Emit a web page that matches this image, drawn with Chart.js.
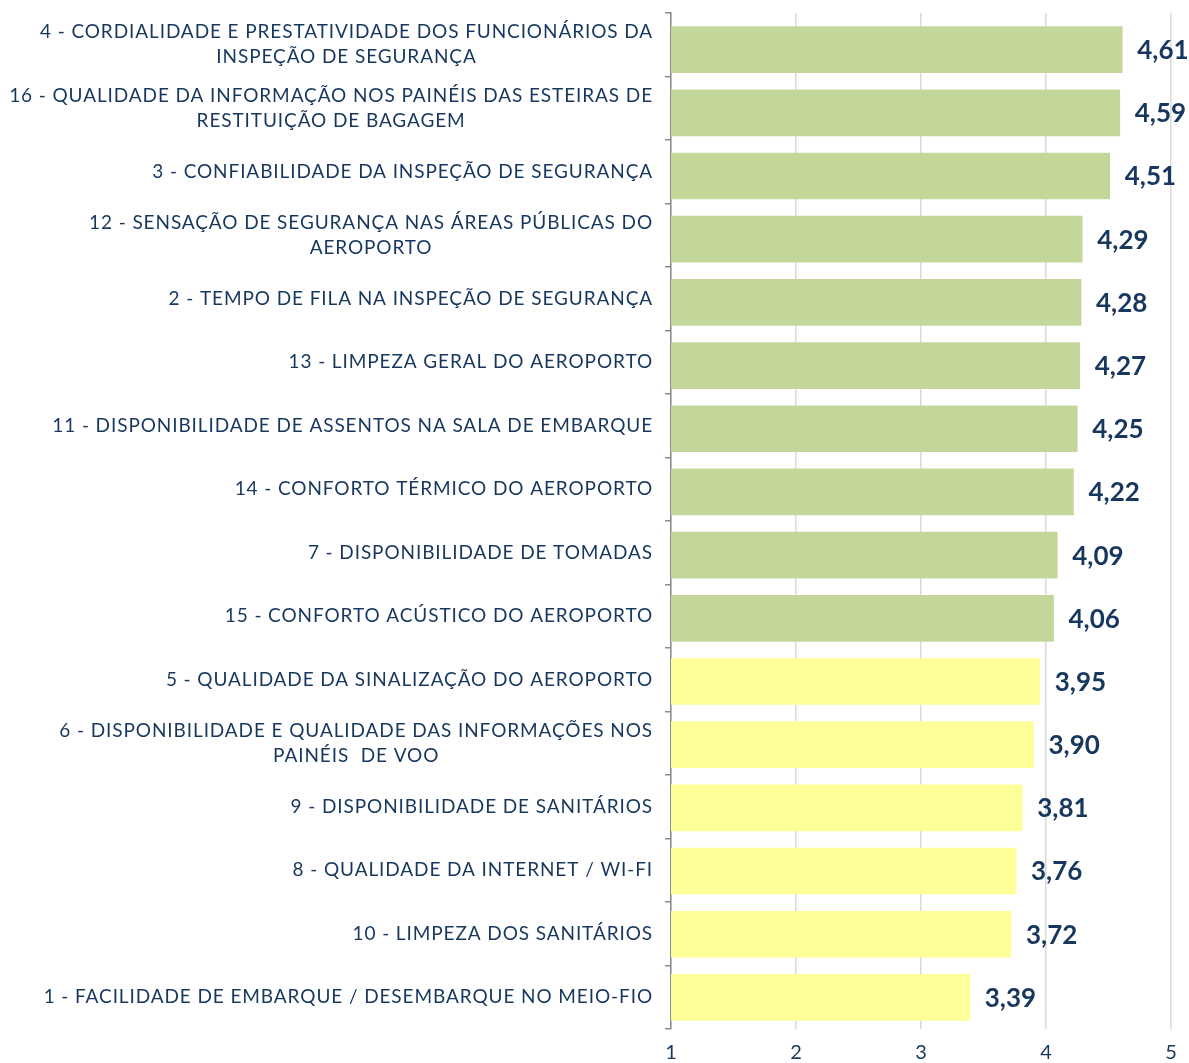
<!DOCTYPE html>
<html lang="pt-BR">
<head>
<meta charset="utf-8">
<script src="https://cdn.jsdelivr.net/npm/chart.js@4.4.1/dist/chart.umd.min.js"></script>
<style>
  html, body { margin: 0; padding: 0; background: #fff; }
  #wrap { width: 1189px; height: 1063px; }
</style>
</head>
<body>
<div id="wrap"><canvas id="grafico"></canvas></div>
<script>
// Itens avaliados (quebras de linha como no original)
const categorias = [
    ['4 - CORDIALIDADE E PRESTATIVIDADE DOS FUNCIONÁRIOS DA', 'INSPEÇÃO DE SEGURANÇA'],
    ['16 - QUALIDADE DA INFORMAÇÃO NOS PAINÉIS DAS ESTEIRAS DE', 'RESTITUIÇÃO DE BAGAGEM'],
    '3 - CONFIABILIDADE DA INSPEÇÃO DE SEGURANÇA',
    ['12 - SENSAÇÃO DE SEGURANÇA NAS ÁREAS PÚBLICAS DO', 'AEROPORTO'],
    '2 - TEMPO DE FILA NA INSPEÇÃO DE SEGURANÇA',
    '13 - LIMPEZA GERAL DO AEROPORTO',
    '11 - DISPONIBILIDADE DE ASSENTOS NA SALA DE EMBARQUE',
    '14 - CONFORTO TÉRMICO DO AEROPORTO',
    '7 - DISPONIBILIDADE DE TOMADAS',
    '15 - CONFORTO ACÚSTICO DO AEROPORTO',
    '5 - QUALIDADE DA SINALIZAÇÃO DO AEROPORTO',
    ['6 - DISPONIBILIDADE E QUALIDADE DAS INFORMAÇÕES NOS', 'PAINÉIS  DE VOO'],
    '9 - DISPONIBILIDADE DE SANITÁRIOS',
    '8 - QUALIDADE DA INTERNET / WI-FI',
    '10 - LIMPEZA DOS SANITÁRIOS',
    '1 - FACILIDADE DE EMBARQUE / DESEMBARQUE NO MEIO-FIO'
];

const notas = [4.61, 4.59, 4.51, 4.29, 4.28, 4.27, 4.25, 4.22, 4.09, 4.06, 3.95, 3.90, 3.81, 3.76, 3.72, 3.39];

const ticksX = [1, 2, 3, 4, 5];
const limiteVerde = 4;

const AZUL = '#17375E';
const VERDE = '#C4D79B';
const AMARELO = '#FFFF99';

// Rótulos das categorias (linhas centralizadas entre si, bloco alinhado à direita) e valores das barras
const rotulosPlugin = {
    id: 'rotulos',
    afterDraw(chart) {
        const ctx = chart.ctx;
        const escalaY = chart.scales.y;
        const area = chart.chartArea;
        ctx.save();
        ctx.fillStyle = AZUL;
        ctx.font = '19px Lato';
        ctx.letterSpacing = '0.9px';
        ctx.textAlign = 'center';
        ctx.textBaseline = 'middle';
        categorias.forEach((cat, i) => {
            const linhas = Array.isArray(cat) ? cat : [cat];
            const largura = Math.max(...linhas.map(l => ctx.measureText(l).width));
            const cx = area.left - 18 - largura / 2;
            const cy = escalaY.getPixelForValue(i);
            linhas.forEach((l, k) => {
                ctx.fillText(l, cx, cy + (k - (linhas.length - 1) / 2) * 25);
            });
        });

        ctx.letterSpacing = '0px';
        ctx.font = 'bold 26px Lato';
        ctx.textAlign = 'left';
        chart.getDatasetMeta(0).data.forEach((barra, i) => {
            const texto = notas[i].toFixed(2).replace('.', ',');
            ctx.fillText(texto, barra.x + 15, barra.y + 1);
        });
        ctx.restore();
    }
};

new Chart(document.getElementById('grafico'), {
    type: 'bar',
    data: {
        labels: categorias,
        datasets: [{
            data: notas.map((v, i) => ({ x: v, y: i })),
            yAxisID: 'yBarras',
            backgroundColor: notas.map(v => v >= limiteVerde ? VERDE : AMARELO),
            borderWidth: 0,
            barThickness: 46
        }]
    },
    options: {
        indexAxis: 'y',
        responsive: true,
        maintainAspectRatio: false,
        animation: false,
        layout: { padding: { top: 13, right: 18, left: 0, bottom: 0 } },
        plugins: {
            legend: { display: false },
            tooltip: { enabled: false }
        },
        scales: {
            x: {
                min: 1,
                max: 5,
                afterBuildTicks: scale => {
                    scale.ticks = ticksX.map(v => ({ value: v }));
                },
                afterFit: scale => { scale.height = 34; },
                grid: { color: '#D9D9D9', lineWidth: 1.5, drawTicks: false },
                border: { display: false },
                ticks: {
                    color: AZUL,
                    font: { family: 'Lato', size: 20 },
                    padding: 12
                }
            },
            // eixo das categorias: só a linha e as marcas entre categorias
            y: {
                type: 'category',
                afterFit: scale => { scale.width = 671; },
                grid: {
                    drawOnChartArea: false,
                    drawTicks: true,
                    tickLength: 6,
                    color: '#8C8C8C',
                    lineWidth: 1.5
                },
                border: { display: true, color: '#8C8C8C', width: 1.5 },
                ticks: { display: false }
            },
            // posição das barras (mesma ordem das categorias)
            yBarras: {
                type: 'linear',
                display: false,
                offset: false,
                reverse: true,
                min: -0.58,
                max: 15.5
            }
        }
    },
    plugins: [rotulosPlugin]
});
</script>
</body>
</html>
